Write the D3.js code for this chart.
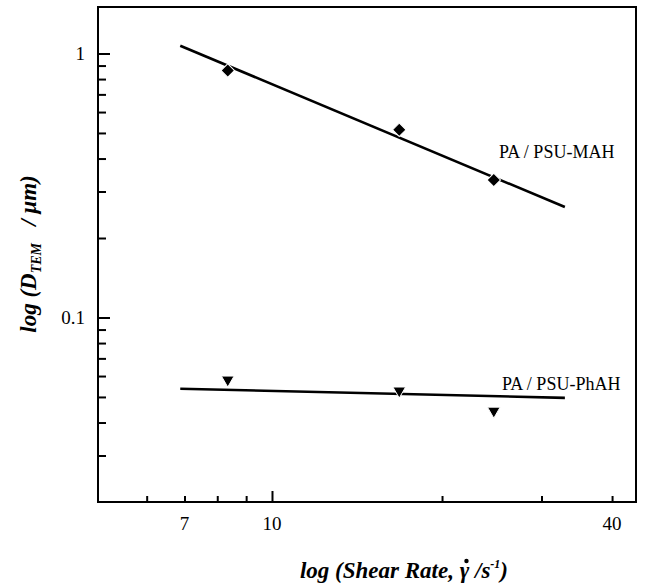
<!DOCTYPE html>
<html>
<head>
<meta charset="utf-8">
<script src="https://cdn.jsdelivr.net/npm/d3@7"></script>
<style>
  body { margin: 0; background: #fff; }
</style>
</head>
<body>
<div id="chart"></div>
<script>
// Data
const shearRate = [8.35, 16.8, 24.7];
const dMAH = [0.862, 0.514, 0.332];
const dPhAH = [0.0581, 0.0528, 0.0443];

// fitted lines (end points as drawn)
const fitX = [6.88, 33.0];
const fitMAH = [1.07, 0.262];
const fitPhAH = [0.0537, 0.0496];

const xMinor = [6, 7, 8, 9, 20, 30, 40];
const xMajor = [10];
const xLabels = [7, 10, 40];
const yMajor = [1, 0.1];
const yMinor = [0.9, 0.8, 0.7, 0.6, 0.5, 0.4, 0.3, 0.2,
  0.09, 0.08, 0.07, 0.06, 0.05, 0.04, 0.03];

const serif = "'Liberation Serif', Tinos, 'Times New Roman', Times, 'DejaVu Serif', serif";

function draw() {
  const dimensions = { width: 647, height: 588, left: 98, top: 7, right: 636, bottom: 502 };

  const svg = d3.select("#chart").append("svg")
    .attr("width", dimensions.width)
    .attr("height", dimensions.height)
    .attr("font-family", serif);

  // Scales
  const xScale = d3.scaleLog().domain([4.92, 44.1]).range([dimensions.left, dimensions.right]);
  const yScale = d3.scaleLog().domain([0.02, 1.5]).range([dimensions.bottom, dimensions.top]);

  // Frame
  svg.append("rect")
    .attr("x", dimensions.left).attr("y", dimensions.top)
    .attr("width", dimensions.right - dimensions.left)
    .attr("height", dimensions.bottom - dimensions.top)
    .attr("fill", "none").attr("stroke", "#000").attr("stroke-width", 2);

  // Axes (ticks point inward)
  const xAxisMinor = d3.axisTop(xScale).tickValues(xMinor).tickSize(6).tickFormat("");
  const xAxisMajor = d3.axisTop(xScale).tickValues(xMajor).tickSize(11).tickFormat("");
  [xAxisMinor, xAxisMajor].forEach((ax) => {
    const g = svg.append("g").attr("transform", `translate(0,${dimensions.bottom})`).call(ax);
    g.select(".domain").remove();
    g.selectAll("line").attr("stroke", "#000").attr("stroke-width", 2);
  });

  const yAxisMinor = d3.axisRight(yScale).tickValues(yMinor).tickSize(8).tickFormat("");
  const yAxisMajor = d3.axisRight(yScale).tickValues(yMajor).tickSize(12).tickFormat("");
  [yAxisMinor, yAxisMajor].forEach((ax) => {
    const g = svg.append("g").attr("transform", `translate(${dimensions.left},0)`).call(ax);
    g.select(".domain").remove();
    g.selectAll("line").attr("stroke", "#000").attr("stroke-width", 2);
  });

  // Tick labels
  svg.append("g").selectAll("text").data(xLabels).join("text")
    .attr("x", (d) => xScale(d))
    .attr("y", 530)
    .attr("text-anchor", "middle")
    .attr("font-size", 19)
    .text((d) => d);

  svg.append("g").selectAll("text").data(yMajor).join("text")
    .attr("x", dimensions.left - 13)
    .attr("y", (d) => yScale(d))
    .attr("dy", "0.35em")
    .attr("text-anchor", "end")
    .attr("font-size", 19)
    .text((d) => d);

  // Fit lines
  const line = d3.line().x((d) => xScale(d[0])).y((d) => yScale(d[1]));
  [fitMAH, fitPhAH].forEach((fit) => {
    svg.append("path")
      .datum(fitX.map((x, i) => [x, fit[i]]))
      .attr("d", line)
      .attr("fill", "none")
      .attr("stroke", "#000")
      .attr("stroke-width", 2.6);
  });

  // Markers
  svg.append("g").selectAll("path").data(shearRate.map((x, i) => [x, dMAH[i]])).join("path")
    .attr("d", d3.symbol(d3.symbolSquare, 90))
    .attr("transform", (d) => `translate(${xScale(d[0])},${yScale(d[1])}) rotate(45)`)
    .attr("fill", "#000").attr("stroke", "#fff").attr("stroke-width", 1);

  svg.append("g").selectAll("path").data(shearRate.map((x, i) => [x, dPhAH[i]])).join("path")
    .attr("d", d3.symbol(d3.symbolTriangle, 70))
    .attr("transform", (d) => `translate(${xScale(d[0])},${yScale(d[1])}) rotate(180)`)
    .attr("fill", "#000").attr("stroke", "#fff").attr("stroke-width", 1);

  // Series labels
  svg.append("text").attr("x", 499).attr("y", 158).attr("font-size", 18).text("PA / PSU-MAH");
  svg.append("text").attr("x", 502).attr("y", 390).attr("font-size", 18).text("PA / PSU-PhAH");

  // Axis titles
  const xTitle = svg.append("text")
    .attr("x", 404).attr("y", 578)
    .attr("text-anchor", "middle")
    .attr("font-size", 23).attr("font-weight", "bold").attr("font-style", "italic");
  const head = "log (Shear Rate, \u03B3";
  xTitle.append("tspan").text(head);
  xTitle.append("tspan").text(" /s");
  xTitle.append("tspan").attr("font-size", 12).attr("dy", -10).text("-1");
  xTitle.append("tspan").attr("dy", 10).text(")");

  // dot over gamma (shear-rate symbol)
  const node = xTitle.node();
  const gi = head.length - 1;
  const gStart = node.getStartPositionOfChar(gi);
  const gEnd = node.getEndPositionOfChar(gi);
  svg.append("circle")
    .attr("cx", (gStart.x + gEnd.x) / 2 + 2)
    .attr("cy", 561)
    .attr("r", 2.2)
    .attr("fill", "#000");

  const yTitle = svg.append("text")
    .attr("transform", "translate(36,254) rotate(-90)")
    .attr("text-anchor", "middle")
    .attr("font-size", 23).attr("font-weight", "bold").attr("font-style", "italic");
  yTitle.append("tspan").text("log (D");
  yTitle.append("tspan").attr("font-size", 14).attr("dy", 5).text("TEM");
  yTitle.append("tspan").attr("dy", -5).text("\u2002 / \u03BCm)");
}

draw();
</script>
</body>
</html>
